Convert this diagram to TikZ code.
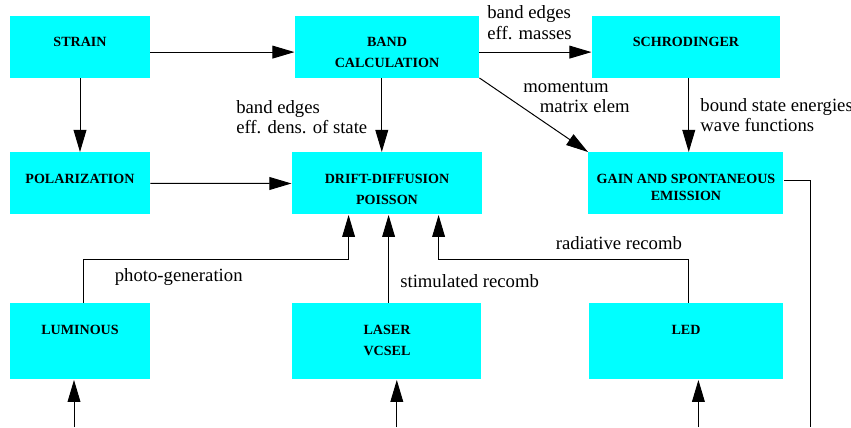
\documentclass[tikz,border=0pt]{standalone}
\usepackage{fontspec}
\setmainfont{Liberation Serif}
\usetikzlibrary{positioning,arrows.meta}
\definecolor{boxcyan}{HTML}{00FFFF}

\begin{document}
\begin{tikzpicture}[
    block/.style={rectangle, fill=boxcyan, inner xsep=0pt, inner ysep=0pt, align=center,
        font=\bfseries\fontsize{10}{14.9}\selectfont, text height=0.775cm, text depth=0.775cm},
    tall/.style={text depth=1.125cm},
    twoline/.style={text height=1.3cm, text depth=0.25cm},
    talltwo/.style={text height=1.3cm, text depth=0.6cm},
    lbl/.style={font=\fontsize{13.3}{14.6}\selectfont, align=left, inner sep=0pt},
    arrow/.style={-{Triangle[length=5.5mm, width=3.2mm]}},
    line width=0.7pt
]
\useasboundingbox (0,0) rectangle (21.275,-10.675);

% top row
\node[block, minimum width=3.5cm] (strain) at (2.0,-1.1625) {STRAIN};
\node[block, twoline, right=3.6cm of strain, minimum width=4.6cm] (band) {BAND\\CALCULATION};
\node[block, right=2.8cm of band, minimum width=4.7cm] (schro) {SCHRODINGER};
% middle row
\node[block, below=1.85cm of strain, minimum width=3.5cm] (polar) {POLARIZATION};
\node[block, twoline, below=1.85cm of band, minimum width=4.75cm] (drift) {DRIFT-DIFFUSION\\POISSON};
\node[block, below=1.85cm of schro, minimum width=4.875cm, text height=1.2cm, text depth=0.35cm] (gain) {GAIN AND SPONTANEOUS\\[-2.9pt]EMISSION};
% bottom row
\node[block, tall, below=2.2cm of polar, minimum width=3.5cm] (lum) {LUMINOUS};
\node[block, talltwo, below=2.2cm of drift, minimum width=4.725cm] (laser) {LASER\\VCSEL};
\node[block, tall, below=2.2cm of gain, minimum width=4.85cm] (led) {LED};

% free ends at the lower edge
\coordinate (lumin) at (1.85,-10.675);
\coordinate (laserin) at (9.92,-10.675);
\coordinate (ledin) at (17.46,-10.675);
\coordinate (gainout) at (20.27,-10.675);

\draw[arrow] ([yshift=-0.14cm]strain.east) -- ([yshift=-0.14cm]band.west);
\draw[arrow] ([yshift=-0.14cm]band.east) -- ([yshift=-0.14cm]schro.west)
    node[lbl, midway, above=0.3cm, xshift=-0.15cm] {band edges\\eff. masses};
\draw[arrow] (strain) -- (polar);
\draw[arrow] (polar) -- (drift);
\draw[arrow] ([xshift=-0.13cm]band.south) -- ([xshift=-0.13cm]band.south |- drift.north)
    node[lbl, midway, left=0.35cm, yshift=-0.05cm] {band edges\\eff. dens. of state};
\draw[arrow] (band.south east) -- (gain.north west)
    node[lbl, pos=0.4, anchor=south west, yshift=-0.15cm] {momentum\\\hspace*{0.41cm}matrix elem};
\draw[arrow] ([xshift=0.07cm]schro.south) -- ([xshift=0.07cm]schro.south |- gain.north)
    node[lbl, midway, right=0.28cm] {bound state energies\\wave functions};
\draw ([yshift=0.08cm]gain.east) -| (gainout);

\draw[arrow] ([xshift=0.08cm]lum.north) |- ([xshift=-0.96cm, yshift=-1.105cm]drift.south)
    node[lbl, pos=0.68, below=0.22cm] {photo-generation} -- ([xshift=-0.96cm]drift.south);
\draw[arrow] ([xshift=0.04cm]laser.north) -- ([xshift=0.04cm]drift.south)
    node[lbl, pos=0.25, right=0.28cm] {stimulated recomb};
\draw[arrow] ([xshift=0.075cm]led.north) |- ([xshift=1.29cm, yshift=-1.105cm]drift.south)
    node[lbl, pos=0.64, above=0.23cm] {radiative recomb} -- ([xshift=1.29cm]drift.south);

\draw[arrow] (lumin) -- (lumin |- lum.south);
\draw[arrow] (laserin) -- (laserin |- laser.south);
\draw[arrow] (ledin) -- (ledin |- led.south);

\end{tikzpicture}
\end{document}
